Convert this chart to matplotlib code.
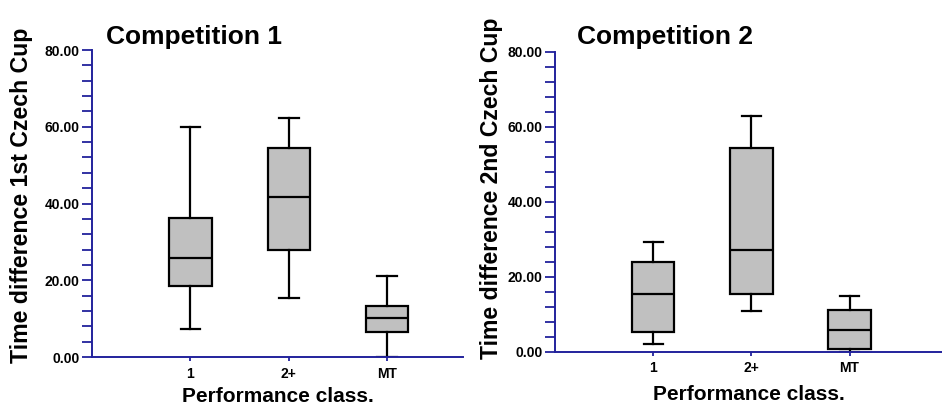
import matplotlib
matplotlib.use("Agg")
import matplotlib.pyplot as plt
from matplotlib.ticker import MultipleLocator, FormatStrFormatter

plt.rcParams['font.family'] = ['Liberation Sans', 'DejaVu Sans']

classes = ['1', '2+', 'MT']

# five-number summaries per performance class: low whisker, Q1, median, Q3, high whisker
comp1_low = [7.4, 15.3, 0.0]
comp1_q1 = [18.5, 27.9, 6.4]
comp1_med = [25.7, 41.8, 10.1]
comp1_q3 = [36.1, 54.4, 13.3]
comp1_high = [60.0, 62.2, 21.0]

comp2_low = [2.0, 10.9, 0.0]
comp2_q1 = [5.2, 15.3, 0.8]
comp2_med = [15.4, 27.1, 5.7]
comp2_q3 = [23.8, 54.3, 11.0]
comp2_high = [29.2, 62.8, 14.9]

titles = ['Competition 1', 'Competition 2']
ylabels = ['Time difference 1st Czech Cup', 'Time difference 2nd Czech Cup']
xlabel = 'Performance class.'

axis_col = '#22229c'


def make_stats(low, q1, med, q3, high):
    stats = []
    for i in range(len(classes)):
        stats.append(dict(label=classes[i], whislo=low[i], q1=q1[i], med=med[i],
                          q3=q3[i], whishi=high[i], fliers=[]))
    return stats


def draw_panel(ax, stats, title, ylabel, xmax, title_x, title_y, lab_x, lab_y,
               ylab_size, xpad):
    lw = 1.6
    ax.bxp(stats, positions=[1, 2, 3], widths=0.43, capwidths=0.2,
           patch_artist=True, showfliers=False,
           boxprops=dict(facecolor='#c0c0c0', edgecolor='black', linewidth=lw),
           whiskerprops=dict(color='black', linewidth=lw),
           capprops=dict(color='black', linewidth=lw),
           medianprops=dict(color='black', linewidth=lw))
    ax.set_xlim(0, xmax)
    ax.set_ylim(0, 80)
    for s in ['top', 'right']:
        ax.spines[s].set_visible(False)
    for s in ['left', 'bottom']:
        ax.spines[s].set_color(axis_col)
        ax.spines[s].set_linewidth(1.4)
    ax.yaxis.set_major_locator(MultipleLocator(20))
    ax.yaxis.set_minor_locator(MultipleLocator(4))
    ax.yaxis.set_major_formatter(FormatStrFormatter('%.2f'))
    ax.tick_params(axis='y', which='both', length=7, width=1.3, color=axis_col,
                   labelsize=10, pad=2)
    ax.tick_params(axis='x', length=3, width=1.3, color=axis_col, labelsize=10, pad=4)
    for t in ax.get_yticklabels() + ax.get_xticklabels():
        t.set_fontweight('bold')
    ax.set_xticks([1, 2, 3])
    ax.set_xticklabels(classes, fontweight='bold')
    ax.set_xlabel(xlabel, fontsize=15, fontweight='bold', labelpad=xpad)
    ax.set_ylabel(ylabel, fontsize=ylab_size, fontweight='bold')
    ax.yaxis.set_label_coords(lab_x, lab_y)
    ax.text(title_x, title_y, title, transform=ax.transAxes, ha='center',
            va='baseline', fontsize=19, fontweight='bold')


fig = plt.figure(figsize=(9.42, 4.05), dpi=100)
ax1 = fig.add_axes([0.0977, 0.1185, 0.3938, 0.758])
ax2 = fig.add_axes([0.5895, 0.1316, 0.4102, 0.7407])

draw_panel(ax1, make_stats(comp1_low, comp1_q1, comp1_med, comp1_q3, comp1_high),
           titles[0], ylabels[0], 3.77, 0.275, 1.02, -0.159, 0.528, 16.7, 4.5)
draw_panel(ax2, make_stats(comp2_low, comp2_q1, comp2_med, comp2_q3, comp2_high),
           titles[1], ylabels[1], 3.94, 0.283, 1.026, -0.135, 0.544, 16.6, 7)

fig.savefig('out.png', dpi=100)
